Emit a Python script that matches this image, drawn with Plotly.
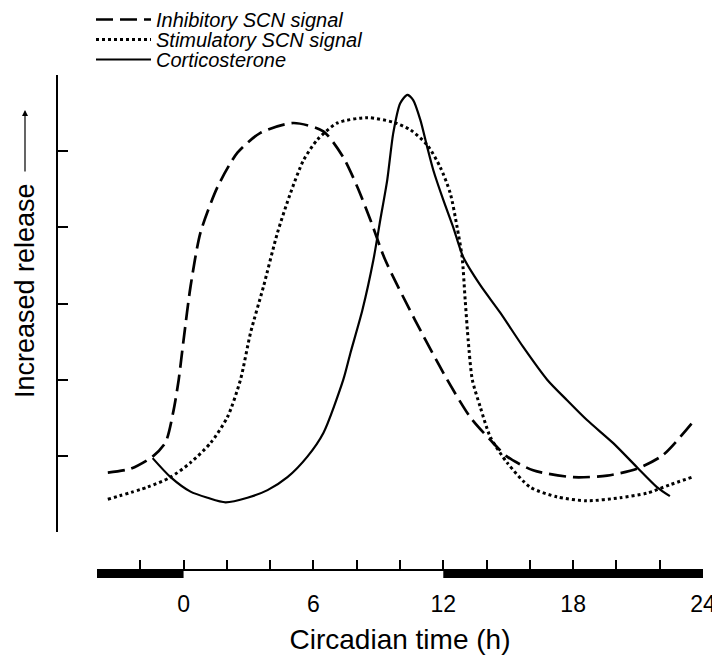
import plotly.graph_objects as go

# ---- data (circadian time in h, relative release in arbitrary units) ----
inhib_t = [-3.5, -2.45, -1.43, -0.83, -0.46, -0.23, 0, 0.32, 0.78, 1.57, 2.49, 3.55, 5.08, 6.46,
           7.38, 8.03, 8.63, 9.32, 10.7, 12.18, 13.24, 14.17, 14.95, 16.15, 18.0, 19.57, 20.95,
           22.15, 23.49]
inhib_v = [0.78, 0.83, 0.99, 1.18, 1.60, 1.99, 2.52, 3.22, 3.93, 4.53, 4.98, 5.24, 5.37, 5.26,
           4.92, 4.53, 4.10, 3.57, 2.78, 2.0, 1.51, 1.21, 0.99, 0.81, 0.72, 0.74, 0.83, 1.01, 1.43]

stim_t = [-3.5, -1.66, -0.6, 0.32, 1.25, 2.03, 2.63, 3.09, 3.69, 4.34, 4.94, 5.54, 6.18, 7.11,
          8.49, 9.69, 10.48, 11.26, 11.86, 12.32, 12.64, 12.87, 13.01, 13.15, 13.34, 13.71, 14.17,
          14.95, 16.01, 17.26, 18.64, 20.17, 21.41, 22.47, 23.49]
stim_v = [0.43, 0.59, 0.72, 0.91, 1.17, 1.51, 2.0, 2.61, 3.22, 3.93, 4.45, 4.88, 5.15, 5.37,
          5.44, 5.38, 5.28, 5.08, 4.79, 4.45, 4.0, 3.61, 3.05, 2.52, 2.0, 1.64, 1.25, 0.91, 0.59,
          0.46, 0.41, 0.45, 0.51, 0.62, 0.72]

cort_t = [-1.43, -0.6, 0.32, 1.11, 1.94, 2.95, 3.88, 4.8, 5.72, 6.46, 7.38, 7.71, 8.26, 8.77,
          9.09, 9.41, 9.69, 10.01, 10.34, 10.61, 10.94, 11.26, 11.54, 12.0, 12.46, 12.92, 13.71,
          14.63, 15.69, 16.8, 17.72, 18.64, 19.84, 20.95, 21.87, 22.47]
cort_v = [0.97, 0.72, 0.53, 0.45, 0.39, 0.45, 0.55, 0.72, 0.99, 1.30, 2.0, 2.35, 2.91, 3.57,
          4.10, 4.62, 5.24, 5.63, 5.74, 5.67, 5.41, 5.05, 4.75, 4.36, 4.0, 3.61, 3.24, 2.88, 2.43,
          2.0, 1.73, 1.47, 1.17, 0.85, 0.59, 0.47]

# dark phases (black bars) on the time axis
dark_start = [-4, 12]
dark_end = [0, 24]

x_tickvals = list(range(-4, 25, 2))
x_ticklabels = ["" if v % 6 or v < 0 else str(v) for v in x_tickvals]
y_tickvals = [0, 1, 2, 3, 4, 5, 6]

series_names = ["Inhibitory SCN signal", "Stimulatory SCN signal", "Corticosterone"]

FONT = "Liberation Sans, Arial, Helvetica, sans-serif"

# page has an 8px body margin, so the figure is 8px smaller than the window
W, H = 712, 648
ML, MR, MT, MB = 49, 17, 67, 86
pw = W - ML - MR
ph = H - MT - MB


def paper_x(page_x):
    return (page_x - 8 - ML) / pw


def paper_y(page_y):
    return (H - MB + 8 - page_y) / ph


fig = go.Figure()
fig.add_trace(go.Scatter(x=inhib_t, y=inhib_v, mode="lines", name=series_names[0],
                         legend="legend",
                         line=dict(color="black", width=2.7, dash="17px,7px", shape="spline",
                                   smoothing=0.7)))
fig.add_trace(go.Scatter(x=stim_t, y=stim_v, mode="lines", name=series_names[1],
                         legend="legend2",
                         line=dict(color="black", width=3, dash="3px,3px", shape="spline",
                                   smoothing=0.7)))
fig.add_trace(go.Scatter(x=cort_t, y=cort_v, mode="lines", name=series_names[2],
                         legend="legend3",
                         line=dict(color="black", width=2.2, shape="spline", smoothing=0.7)))

shapes = []
for s, e in zip(dark_start, dark_end):
    shapes.append(dict(type="rect", xref="x", yref="paper", x0=s, x1=e,
                       y0=paper_y(578), y1=paper_y(570),
                       fillcolor="black", line=dict(width=0), layer="above"))

annotations = [
    dict(text="Increased release", xref="paper", yref="paper",
         x=paper_x(25), y=paper_y(291), textangle=-90, showarrow=False,
         xanchor="center", yanchor="middle", font=dict(family=FONT, size=27, color="black")),
    dict(text="", xref="paper", yref="paper", x=paper_x(25), y=paper_y(110),
         ax=0, ay=63, showarrow=True, arrowhead=2, arrowsize=1, arrowwidth=1.2,
         arrowcolor="black"),
]

legend_rows = [19, 39, 59]  # page y of each legend row centre


def legend_box(row_y):
    return dict(xref="paper", yref="paper", x=paper_x(97 - 6), y=paper_y(row_y - 19),
                xanchor="left", yanchor="top", bgcolor="rgba(0,0,0,0)", borderwidth=0,
                itemwidth=55,
                font=dict(family=FONT, size=20, color="black", style="italic"))


fig.update_layout(
    width=W, height=H,
    margin=dict(l=ML, r=MR, t=MT, b=MB, autoexpand=False),
    paper_bgcolor="white", plot_bgcolor="white",
    font=dict(family=FONT, color="black"),
    showlegend=True,
    legend=legend_box(legend_rows[0]),
    legend2=legend_box(legend_rows[1]),
    legend3=legend_box(legend_rows[2]),
    xaxis=dict(domain=[paper_x(97), 1], range=[-4, 24], anchor="free", position=0,
               automargin=False,
               showgrid=False, zeroline=False, showline=True, linecolor="black", linewidth=1.5,
               ticks="inside", ticklen=9, tickwidth=1.5, tickcolor="black",
               tickvals=x_tickvals, ticktext=x_ticklabels, ticklabelstandoff=14,
               tickfont=dict(family=FONT, size=23, color="black"),
               title=dict(text="Circadian time (h)", font=dict(family=FONT, size=28, color="black"),
                          standoff=12)),
    yaxis=dict(domain=[paper_y(532), 1], range=[0, 6], anchor="free", position=0,
               automargin=False,
               showgrid=False, zeroline=False, showline=True, linecolor="black", linewidth=1.5,
               ticks="inside", ticklen=10, tickwidth=1.5, tickcolor="black",
               tickvals=y_tickvals, showticklabels=False),
    shapes=shapes,
    annotations=annotations,
)

fig.write_html("out.html")
